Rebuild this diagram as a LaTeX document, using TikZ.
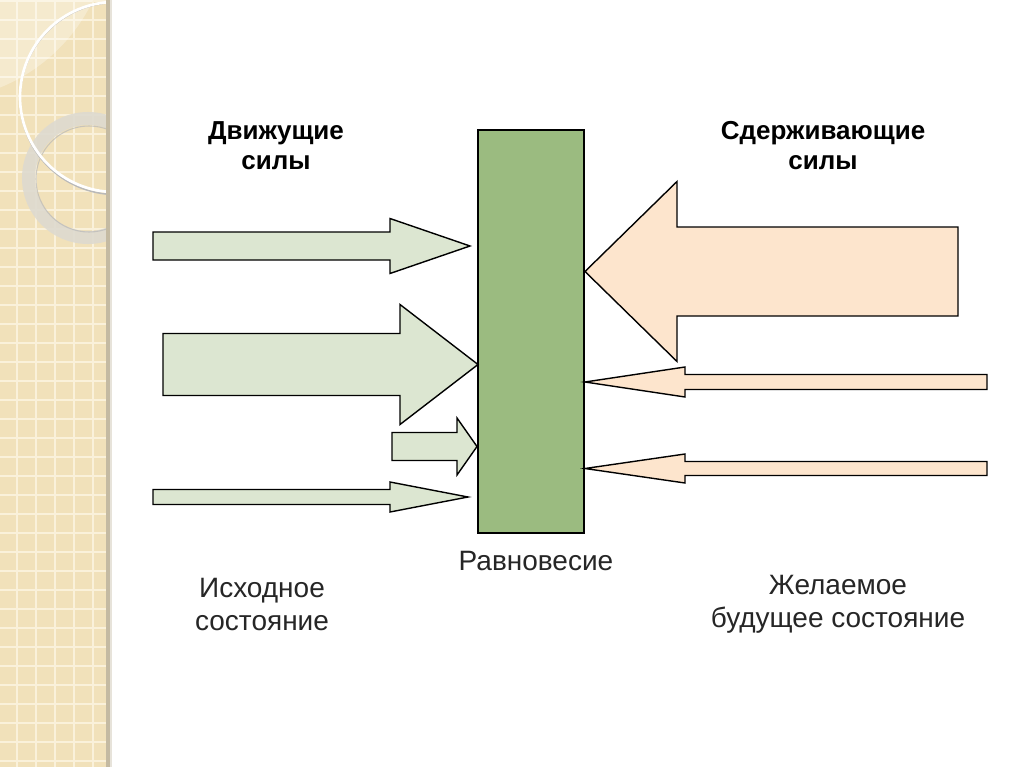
\documentclass[tikz,border=0pt]{standalone}
\usepackage{fontspec}
\setmainfont{Liberation Sans}
\definecolor{stripbg}{RGB}{241,225,186}
\definecolor{stripline}{RGB}{250,241,218}
\definecolor{stripshadow}{RGB}{196,186,162}
\definecolor{ringgrey}{RGB}{222,218,208}
\definecolor{greenarrow}{RGB}{220,230,209}
\definecolor{peacharrow}{RGB}{253,229,205}
\definecolor{bargreen}{RGB}{155,187,128}
\tikzset{
  drivearrow/.style={fill=greenarrow, draw=black, line width=1.05pt, line join=miter},
  holdarrow/.style={fill=peacharrow, draw=black, line width=1.05pt, line join=miter},
  barbox/.style={draw=black, fill=bargreen, line width=1.6pt, inner sep=0pt},
  title/.style={font=\bfseries\fontsize{19.5}{22.5}\selectfont, align=center, inner sep=0pt},
  caption/.style={font=\fontsize{21}{24.75}\selectfont, align=center, inner sep=0pt, text=black!85}
}
% #1 style, #2 tail x, #3 centre y, #4 shaft half height, #5 head base x, #6 head half height, #7 tip x
\newcommand\blockarrow[7]{%
  \filldraw[#1] (#2,{#3-#4}) -- (#5,{#3-#4}) -- (#5,{#3-#6}) -- (#7,#3)
    -- (#5,{#3+#6}) -- (#5,{#3+#4}) -- (#2,{#3+#4}) -- cycle;}
\begin{document}
\begin{tikzpicture}[x=0.75pt,y=-0.75pt]
\useasboundingbox (0,0) rectangle (1024,767);
\fill[white] (0,0) rectangle (1024,767);
% decorative strip
\begin{scope}
  \clip (0,0) rectangle (108,767);
  \fill[stripbg] (0,0) rectangle (108,767);
  \foreach \i in {0,...,6} {\draw[stripline, line width=1pt] ({\i*19-2},0) -- ({\i*19-2},767);}
  \foreach \j in {0,...,41} {\draw[stripline, line width=1pt] (0,{\j*19+1}) -- (108,{\j*19+1});}
  \fill[white, opacity=0.3] (-65,-75) circle[radius=175];
  \draw[ringgrey, line width=9.75pt, opacity=0.9] (88,178) circle[radius=59.5];
  \draw[gray!55, line width=0.8pt, opacity=0.7] (89,179) circle[radius=53];
  \draw[gray!55, line width=1.2pt] (116,98.5) circle[radius=96];
  \draw[white, line width=2pt] (115,97) circle[radius=95];
\end{scope}
\fill[stripshadow] (106,0) rectangle (110,767);
\fill[stripshadow!40] (110,0) rectangle (112,767);
% equilibrium bar
\node[barbox, minimum width=79.5pt, minimum height=302.25pt] (bar) at (531,331.5) {};
% driving forces
\blockarrow{drivearrow}{153}{246}{14}{390}{27.5}{470}
\blockarrow{drivearrow}{163}{364.5}{31}{400}{60}{478}
\blockarrow{drivearrow}{392}{446.5}{14}{457}{28.5}{477}
\blockarrow{drivearrow}{153}{497}{7.5}{390}{15}{468}
% restraining forces
\blockarrow{holdarrow}{958}{271.5}{44.5}{677}{90}{585}
\blockarrow{holdarrow}{987}{382}{7.5}{685}{15}{585}
\blockarrow{holdarrow}{987}{468.5}{7}{685}{14.5}{585}
% labels
\node[title] (drive) at (276,146) {Движущие\\силы};
\node[title] (hold) at (823,146) {Сдерживающие\\силы};
\node[caption, anchor=north] (eq) at (536,551) {Равновесие};
\node[caption] (init) at (262,604) {Исходное\\состояние};
\node[caption] (future) at (838,604) {Желаемое\\будущее состояние};
\end{tikzpicture}
\end{document}
